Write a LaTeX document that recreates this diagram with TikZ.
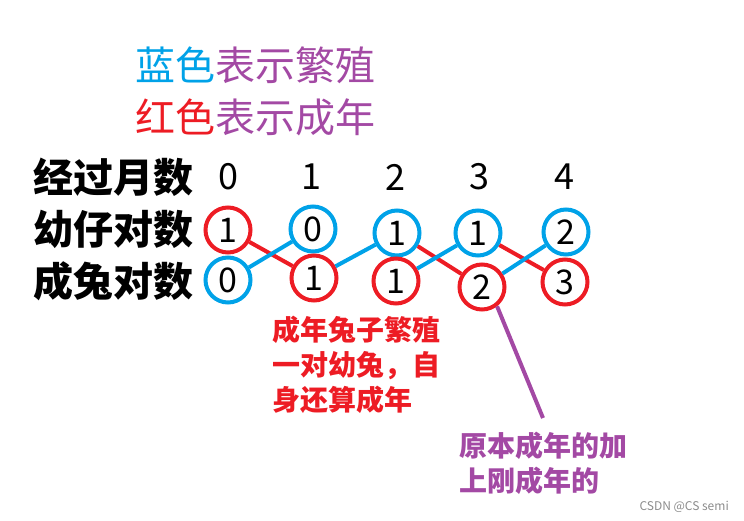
\documentclass[tikz,border=0pt]{standalone}
\usepackage{fontspec}
\setmainfont{Noto Sans CJK SC}
\definecolor{rosso}{HTML}{ED1C24}
\definecolor{azzurro}{HTML}{00A2E8}
\definecolor{viola}{HTML}{A349A4}
\tikzset{
  anello/.style={circle, line width=4pt, minimum size=45pt, inner sep=0pt, font=\fontsize{34}{34}\selectfont},
  rosso anello/.style={anello, draw=rosso},
  azzurro anello/.style={anello, draw=azzurro},
  etichetta/.style={font=\fontsize{40}{40}\selectfont\bfseries, inner sep=0pt},
  mese/.style={font=\fontsize{36}{36}\selectfont, inner sep=0pt},
}
\begin{document}
\begin{tikzpicture}[x=1pt, y=-1pt]

        \useasboundingbox (0, 0) rectangle (744, 521);

        % Legenda dei colori
        \node[font=\fontsize{40}{40}\selectfont, inner sep=0pt] (legblu) at (255, 65)
            {\textcolor{azzurro}{蓝色}\textcolor{viola}{表示繁殖}};
        \node[font=\fontsize{40}{40}\selectfont, inner sep=0pt] (legrosso) at (255, 117)
            {\textcolor{rosso}{红色}\textcolor{viola}{表示成年}};

        % Intestazioni delle righe
        \node[etichetta] (mesi) at (113, 177) {经过月数};
        \node[etichetta] (piccoli) at (113, 229) {幼仔对数};
        \node[etichetta] (adulti) at (113, 281) {成兔对数};

        % Numero dei mesi
        \node[mese] (m0) at (228, 177) {0};
        \node[mese] (m1) at (311, 177) {1};
        \node[mese] (m2) at (395, 177) {2};
        \node[mese] (m3) at (479, 177) {3};
        \node[mese] (m4) at (564, 177) {4};

        % Coppie giovani (riga in alto)
        \node[rosso anello] (p0) at (228, 230) {1};
        \node[azzurro anello] (p1) at (313, 229) {0};
        \node[azzurro anello] (p2) at (397, 233) {1};
        \node[azzurro anello] (p3) at (478, 233) {1};
        \node[azzurro anello] (p4) at (566, 232) {2};

        % Coppie adulte (riga in basso)
        \node[azzurro anello] (a0) at (228, 280) {0};
        \node[rosso anello] (a1) at (314, 278) {1};
        \node[rosso anello] (a2) at (396, 281) {1};
        \node[rosso anello] (a3) at (482, 287) {2};
        \node[rosso anello] (a4) at (565, 282) {3};

        % Collegamenti rossi (crescita)
        \draw[rosso, line width=4pt] (p0) -- (a1);
        \draw[rosso, line width=4pt] (p2) -- (a3);
        \draw[rosso, line width=4pt] (p3) -- (a4);

        % Collegamenti azzurri (riproduzione)
        \draw[azzurro, line width=4pt] (a0) -- (p1);
        \draw[azzurro, line width=4pt] (a1) -- (p2);
        \draw[azzurro, line width=4pt] (a2) -- (p3);
        \draw[azzurro, line width=4pt] (a3) -- (p4);

        % Nota rossa
        \node[anchor=west, align=left, inner sep=0pt, text=rosso,
              font=\fontsize{28}{35}\selectfont\bfseries] (notarossa) at (272, 365)
            {成年兔子繁殖\\一对幼兔，自\\身还算成年};

        % Nota viola con linea
        \coordinate (finelinea) at (543, 418);
        \draw[viola, line width=4pt] (a3.-52) -- (finelinea);
        \node[anchor=west, align=left, inner sep=0pt, text=viola,
              font=\fontsize{28}{35}\selectfont\bfseries] (notaviola) at (459, 463)
            {原本成年的加\\上刚成年的};

        % Filigrana
        \node[anchor=east, inner sep=0pt, text=black!45,
              font=\fontsize{12}{12}\selectfont] (firma) at (729, 507) {CSDN @CS semi};

    \end{tikzpicture}
\end{document}
